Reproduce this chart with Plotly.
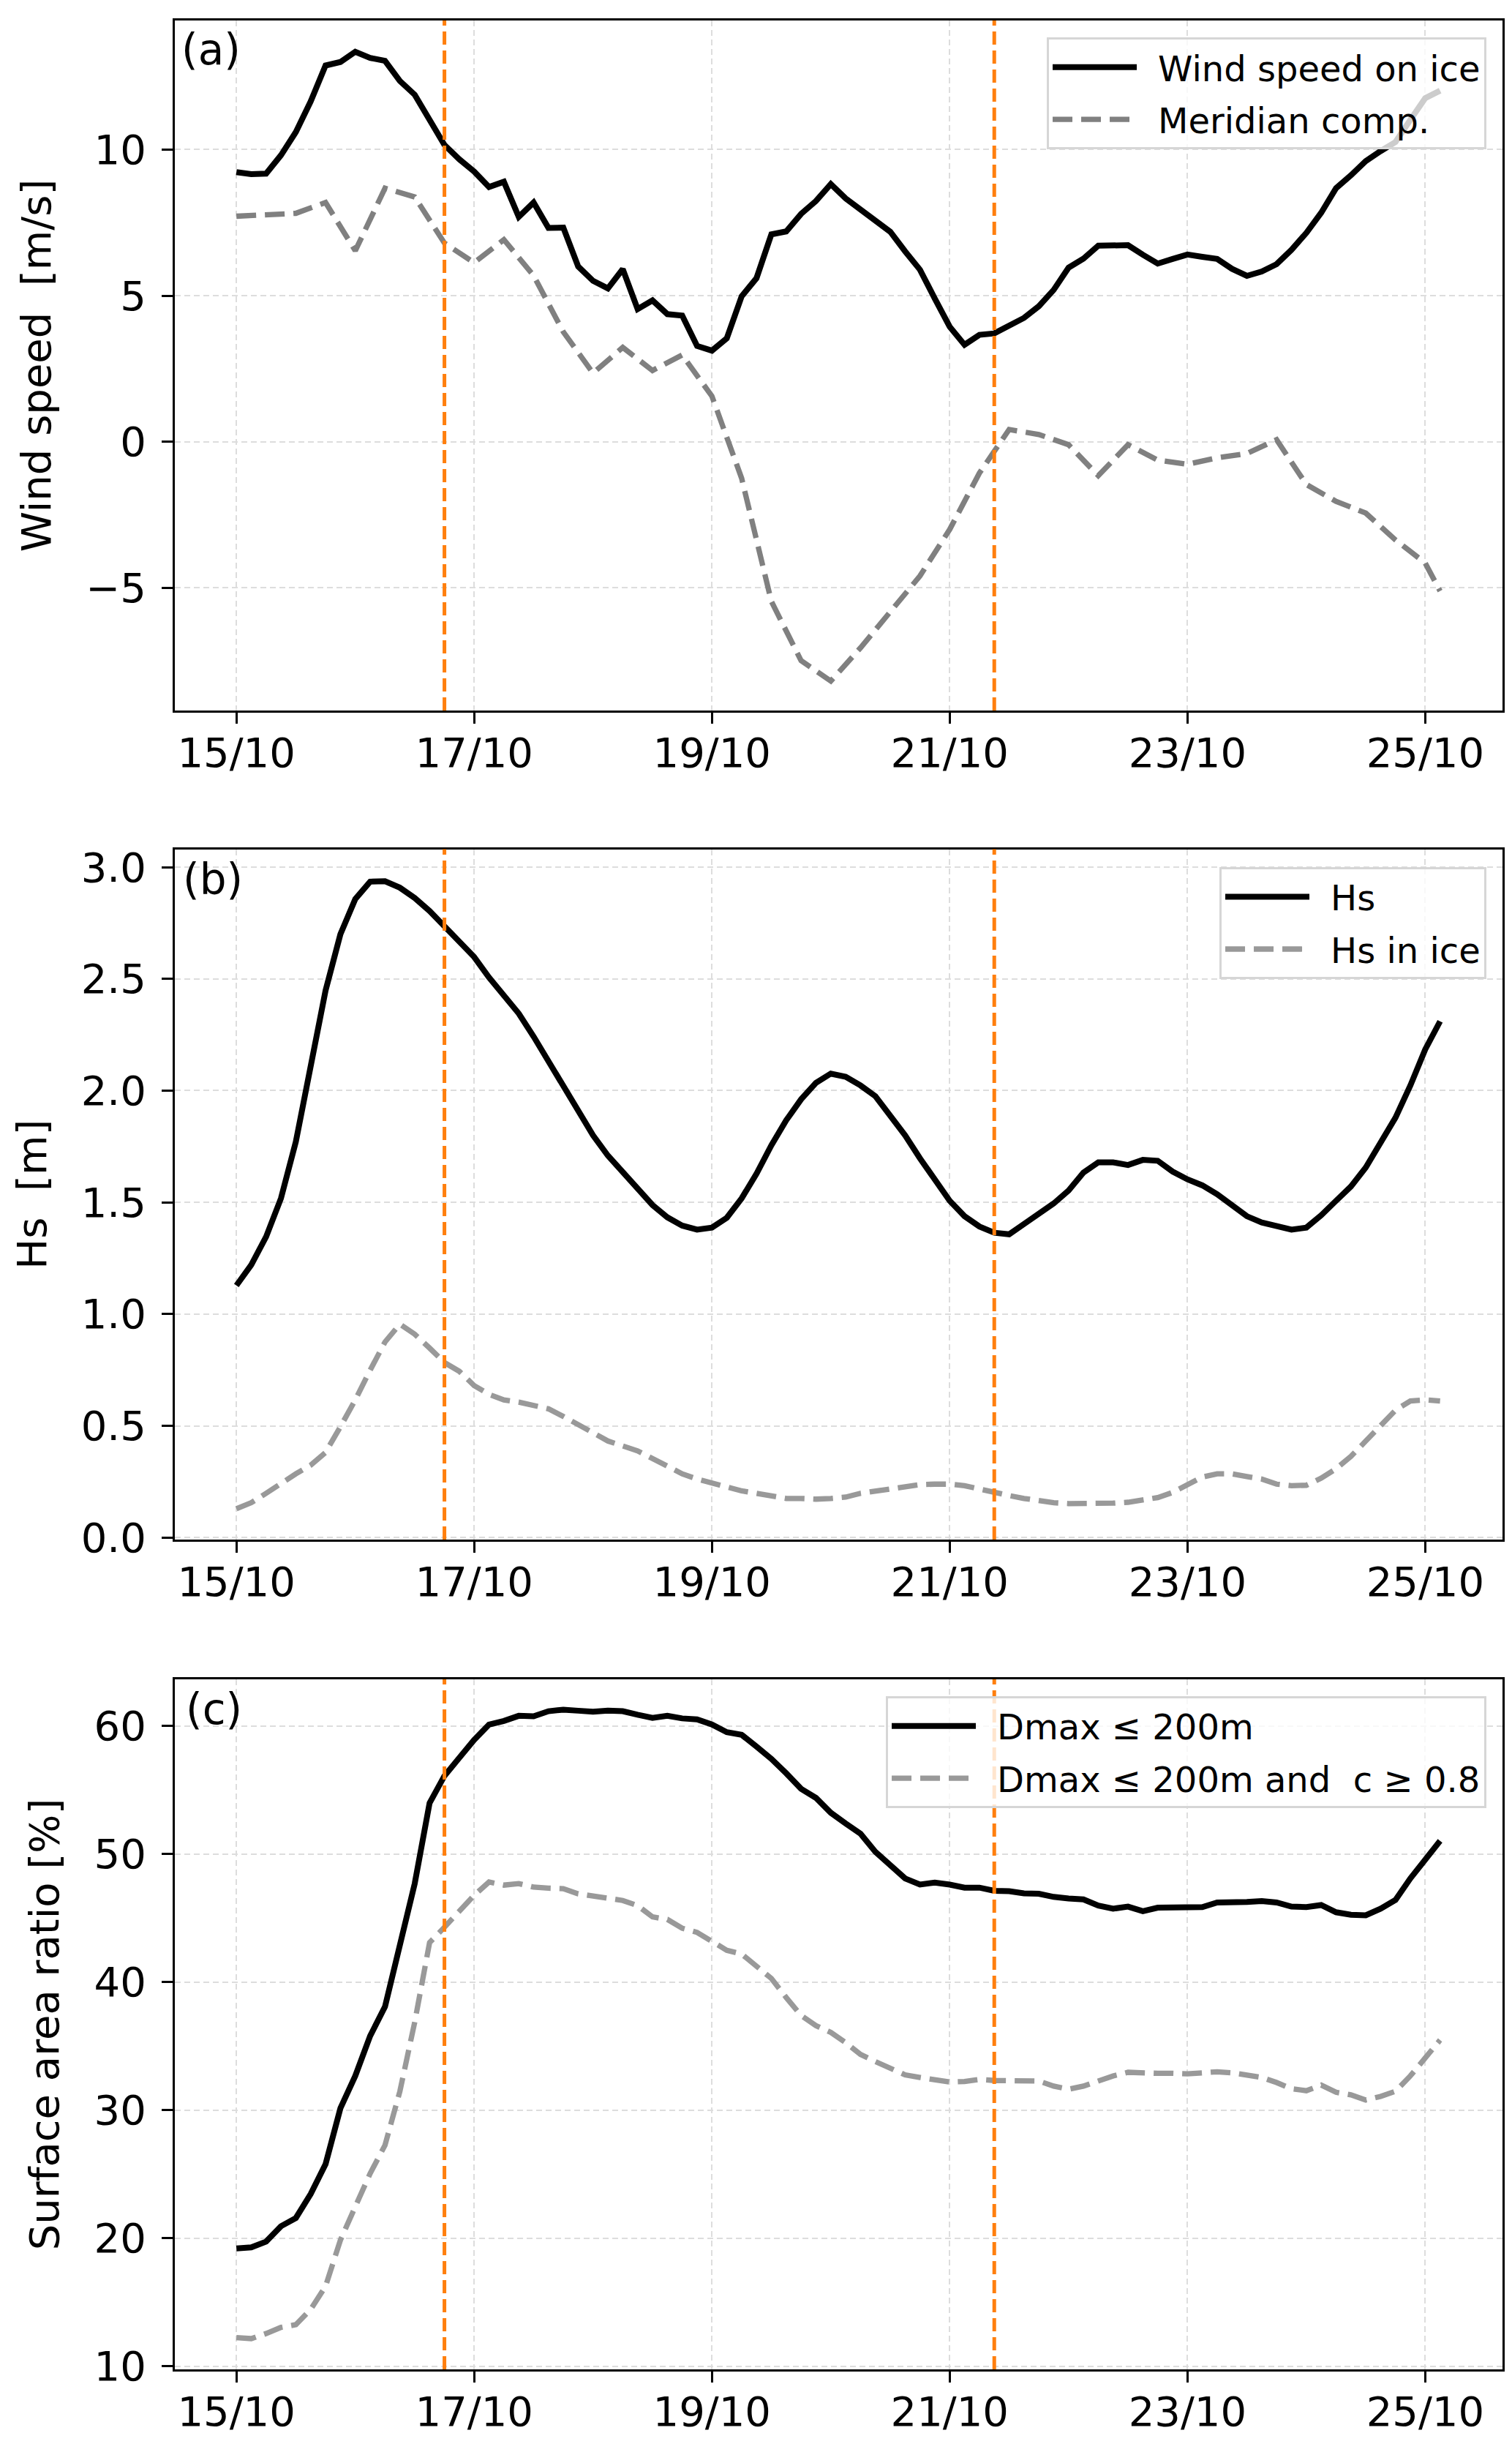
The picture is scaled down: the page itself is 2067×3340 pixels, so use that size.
import pandas as pd
import plotly.graph_objects as go
from plotly.subplots import make_subplots

# ---------------- data ----------------
start = pd.Timestamp("2021-10-15 00:00")
time_3h = pd.date_range(start, periods=82, freq="3h")          # 15/10 00:00 ... 25/10 03:00
merid_hours = list(range(0, 241, 6)) + [243]
time_merid = [start + pd.Timedelta(hours=h) for h in merid_hours]

wind_speed = [9.23, 9.16, 9.18, 9.81, 10.6, 11.65, 12.88, 13.0, 13.35, 13.14,
              13.04, 12.35, 11.88, 11.0, 10.16, 9.67, 9.25, 8.72, 8.9, 7.70,
              8.19, 7.32, 7.33, 6.0, 5.51, 5.25, 5.91, 4.54, 4.84, 4.37,
              4.32, 3.28, 3.12, 3.54, 4.98, 5.6, 7.1, 7.2, 7.8, 8.24,
              8.82, 8.33, 7.94, 7.57, 7.19, 6.52, 5.89, 4.9, 3.94, 3.32,
              3.66, 3.71, 3.99, 4.24, 4.64, 5.2, 5.96, 6.27, 6.71, 6.7,
              6.73, 6.4, 6.1, 6.26, 6.41, 6.33, 6.26, 5.92, 5.68, 5.83,
              6.08, 6.57, 7.15, 7.84, 8.68, 9.12, 9.61, 9.95, 10.26, 11.02,
              11.76, 12.02]

meridian = [7.72, 7.78, 7.82, 8.19, 6.54, 8.68, 8.38, 6.8, 6.13, 6.92,
            5.69, 3.76, 2.35, 3.23, 2.44, 2.97, 1.56, -1.25, -5.46, -7.49,
            -8.19, -7.05, -5.82, -4.59, -3.0, -1.07, 0.42, 0.25, -0.1, -1.16,
            -0.1, -0.63, -0.77, -0.55, -0.4, 0.07, -1.46, -2.04, -2.44, -3.36,
            -4.15, -5.11]

hs = [1.128, 1.22, 1.346, 1.518, 1.771, 2.127, 2.448, 2.70, 2.857, 2.935,
      2.937, 2.908, 2.862, 2.804, 2.735, 2.662, 2.598, 2.506, 2.425, 2.345,
      2.242, 2.131, 2.019, 1.909, 1.80, 1.709, 1.633, 1.557, 1.488, 1.433,
      1.396, 1.378, 1.387, 1.431, 1.518, 1.628, 1.755, 1.867, 1.961, 2.035,
      2.076, 2.062, 2.023, 1.975, 1.892, 1.80, 1.697, 1.598, 1.507, 1.438,
      1.392, 1.364, 1.357, 1.403, 1.449, 1.495, 1.553, 1.633, 1.679, 1.679,
      1.667, 1.69, 1.686, 1.638, 1.603, 1.576, 1.536, 1.488, 1.438, 1.41,
      1.392, 1.378, 1.387, 1.442, 1.507, 1.571, 1.656, 1.764, 1.879, 2.023,
      2.184, 2.31]

hs_ice = [0.129, 0.156, 0.198, 0.243, 0.285, 0.324, 0.381, 0.496, 0.616, 0.749,
          0.875, 0.955, 0.91, 0.848, 0.783, 0.744, 0.68, 0.641, 0.616, 0.606,
          0.588, 0.576, 0.542, 0.508, 0.469, 0.432, 0.411, 0.388, 0.354, 0.317,
          0.285, 0.262, 0.243, 0.225, 0.209, 0.198, 0.184, 0.175, 0.175, 0.172,
          0.175, 0.181, 0.198, 0.209, 0.22, 0.23, 0.237, 0.239, 0.239, 0.232,
          0.216, 0.202, 0.188, 0.175, 0.163, 0.156, 0.152, 0.152, 0.152, 0.154,
          0.158, 0.168, 0.179, 0.202, 0.237, 0.271, 0.285, 0.285, 0.273, 0.262,
          0.239, 0.232, 0.234, 0.266, 0.308, 0.363, 0.432, 0.505, 0.57, 0.611,
          0.616, 0.611]

dmax200 = [19.21, 19.29, 19.74, 20.94, 21.58, 23.46, 25.79, 30.15, 32.68, 35.8,
           38.08, 43.01, 47.7, 53.99, 56.11, 57.52, 58.92, 60.12, 60.4, 60.8,
           60.76, 61.16, 61.28, 61.2, 61.12, 61.2, 61.16, 60.88, 60.64, 60.8,
           60.6, 60.52, 60.12, 59.52, 59.32, 58.4, 57.44, 56.31, 55.1, 54.39,
           53.23, 52.39, 51.59, 50.18, 49.1, 48.1, 47.62, 47.78, 47.62, 47.38,
           47.38, 47.14, 47.1, 46.94, 46.9, 46.66, 46.54, 46.46, 45.98, 45.74,
           45.9, 45.54, 45.82, 45.82, 45.82, 45.86, 46.22, 46.22, 46.26, 46.34,
           46.22, 45.9, 45.86, 46.02, 45.46, 45.26, 45.22, 45.74, 46.42, 48.1,
           49.58, 51.03]

dmax200_c08 = [12.24, 12.16, 12.56, 13.04, 13.25, 14.45, 16.25, 19.86, 22.46, 25.06,
               27.27, 31.47, 36.88, 43.09, 44.29, 45.5, 46.78, 47.82, 47.58, 47.7,
               47.42, 47.34, 47.3, 46.9, 46.7, 46.5, 46.38, 45.98, 45.1, 44.9,
               44.21, 43.89, 43.17, 42.49, 42.2, 41.29, 40.29, 38.8, 37.4, 36.6,
               36.08, 35.28, 34.36, 33.8, 33.28, 32.76, 32.56, 32.36, 32.2, 32.24,
               32.4, 32.32, 32.32, 32.32, 32.28, 31.88, 31.64, 31.88, 32.28, 32.68,
               32.96, 32.88, 32.88, 32.88, 32.84, 32.92, 33.0, 32.92, 32.76, 32.56,
               32.16, 31.68, 31.52, 31.96, 31.4, 31.2, 30.8, 31.08, 31.48, 32.68,
               34.08, 35.48]

event_times = ["2021-10-16 18:00", "2021-10-21 09:00"]

panel_labels = ["(a)", "(b)", "(c)"]
y_titles = ["Wind speed  [m/s]", "Hs  [m]", "Surface area ratio [%]"]
legend_names = [["Wind speed on ice", "Meridian comp."],
                ["Hs", "Hs in ice"],
                ["Dmax ≤ 200m", "Dmax ≤ 200m and\u00a0 c ≥ 0.8"]]

# ---------------- styling ----------------
FONT = "DejaVu Sans"
TICK_SIZE = 56
LEG_SIZE = 48
BLACK_W = 8
GRAY_W = 7.3
GRAY_DASH = "27px,12px"
ORANGE = "#ff7f0e"
SP = "\u2002"   # spacing between legend sample and text

fig = make_subplots(rows=3, cols=1)

series = [
    (time_3h, wind_speed, time_merid, meridian, "#808080"),
    (time_3h, hs, time_3h, hs_ice, "#999999"),
    (time_3h, dmax200, time_3h, dmax200_c08, "#999999"),
]
legends = ["legend", "legend2", "legend3"]
for k, (t1, y1, t2, y2, gcol) in enumerate(series):
    fig.add_trace(go.Scatter(x=t1, y=y1, mode="lines", name=SP + legend_names[k][0],
                             line=dict(color="black", width=BLACK_W),
                             legend=legends[k], legendgroup=f"g{k}a"), row=k + 1, col=1)
    fig.add_trace(go.Scatter(x=t2, y=y2, mode="lines", name=SP + legend_names[k][1],
                             line=dict(color=gcol, width=GRAY_W, dash=GRAY_DASH),
                             legend=legends[k], legendgroup=f"g{k}b"), row=k + 1, col=1)

# vertical event lines
for k in range(3):
    xa = "x" if k == 0 else f"x{k+1}"
    ya = "y" if k == 0 else f"y{k+1}"
    for et in event_times:
        fig.add_shape(type="line", x0=et, x1=et, xref=xa,
                      y0=0, y1=1, yref=f"{ya} domain",
                      line=dict(color=ORANGE, width=5, dash="18px,8px"), layer="above")

x_lo = start - pd.Timedelta(hours=12.43)
x_hi = start + pd.Timedelta(hours=255.6)

y_ranges = [[-9.2, 14.42], [-0.009, 3.08], [9.76, 63.65]]
y_dtick = [5, 0.5, 10]
y_tickfmt = ["d", ".1f", "d"]
y_domains = [[0.7062, 1.0], [0.35327, 0.64717], [0.0, 0.29377]]
title_standoff = [30, 30, 30]

axis_common = dict(showline=True, linecolor="black", linewidth=3, mirror=True,
                   ticks="outside", ticklen=15, tickwidth=2.8, tickcolor="black",
                   showgrid=True, gridcolor="#dddddd", gridwidth=2, griddash="8px,5px",
                   zeroline=False, tickfont=dict(family=FONT, size=TICK_SIZE, color="black"))

for k in range(3):
    fig.update_xaxes(range=[x_lo, x_hi], tick0="2021-10-15", dtick=2 * 86400000,
                     tickformat="%d/%m", domain=[0, 1], ticklabelstandoff=-8,
                     row=k + 1, col=1, **axis_common)
    fig.update_yaxes(range=y_ranges[k], dtick=y_dtick[k], tickformat=y_tickfmt[k],
                     domain=y_domains[k], ticklabelstandoff=10,
                     title=dict(text=y_titles[k], standoff=title_standoff[k],
                                font=dict(family=FONT, size=TICK_SIZE, color="black")),
                     row=k + 1, col=1, **axis_common)

# panel labels
label_pos = [(0.004, 0.958), (0.005, 0.956), (0.007, 0.956)]
for k in range(3):
    xa = "x" if k == 0 else f"x{k+1}"
    ya = "y" if k == 0 else f"y{k+1}"
    fig.add_annotation(text=panel_labels[k], xref=f"{xa} domain", yref=f"{ya} domain",
                       x=label_pos[k][0], y=label_pos[k][1], xanchor="left", yanchor="middle",
                       showarrow=False, font=dict(family=FONT, size=58, color="black"))

leg_common = dict(xanchor="right", yanchor="top", bgcolor="rgba(255,255,255,0.8)",
                  bordercolor="#d6d6d6", borderwidth=3, itemwidth=115,
                  traceorder="grouped", tracegroupgap=6,
                  font=dict(family=FONT, size=LEG_SIZE, color="black"))
fig.update_layout(
    width=2067, height=3340,
    margin=dict(l=231, r=21, t=20, b=110),
    paper_bgcolor="white", plot_bgcolor="white",
    font=dict(family=FONT, color="black"),
    template="none",
    legend=dict(x=0.9879, y=0.9928, **leg_common),
    legend2=dict(x=0.9879, y=0.6396, **leg_common),
    legend3=dict(x=0.9879, y=0.2866, **leg_common),
)

fig.write_html("out.html")
